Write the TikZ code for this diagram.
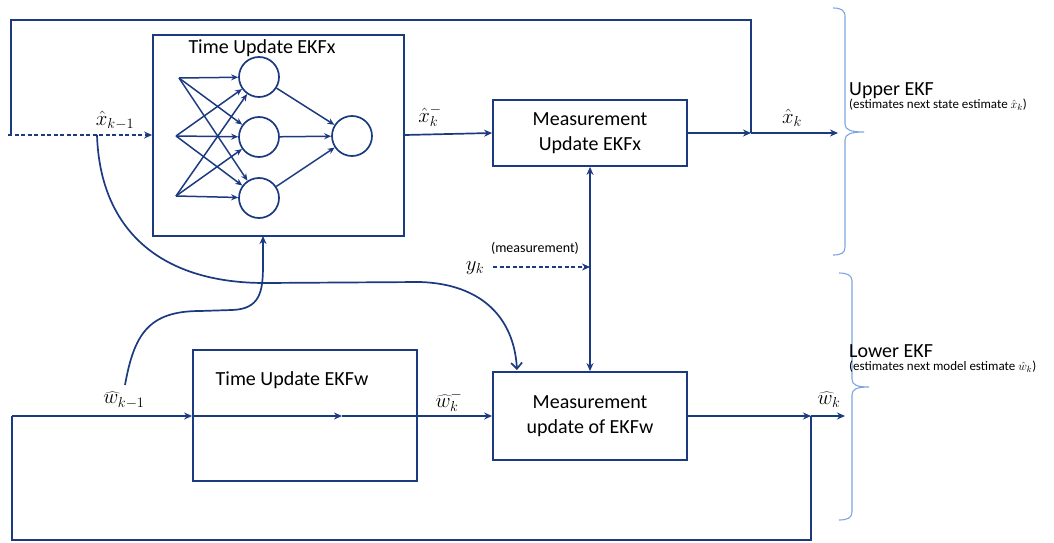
\documentclass[tikz,border=0pt]{standalone}
\usepackage{fontspec}
\setmainfont{Carlito}
\usetikzlibrary{arrows.meta,calc}
\definecolor{navy}{RGB}{28,58,128}
\definecolor{lblue}{RGB}{125,165,225}
\begin{document}
\begin{tikzpicture}[x=1pt,y=-1pt,
  wire/.style={draw=navy,line width=1.7pt},
  tip/.style={-{Stealth[length=8pt,width=7pt]}},
  box/.style={draw=navy,line width=1.8pt,rectangle,inner sep=0pt,align=center,font=\fontsize{20}{25}\selectfont},
  neuron/.style={draw=navy,line width=1.7pt,circle,minimum size=40pt,inner sep=0pt},
  lab/.style={font=\fontsize{20}{24}\selectfont,inner sep=0pt},
  brace/.style={draw=lblue,line width=1.1pt},
  dsh/.style={dash pattern=on 4pt off 2.5pt}]
\useasboundingbox (0,0) rectangle (1054,543);
% boxes
\node[box,minimum width=251pt,minimum height=201pt] (tux) at (278.5,135.5) {};
\node[lab] (tuxt) at (262,48) {Time Update EKFx};
\node[box,minimum width=194pt,minimum height=66pt] (mux) at (590,133) {Measurement\\Update EKFx};
\node[box,minimum width=224pt,minimum height=131pt] (tuw) at (305,415.5) {};
\node[lab] (tuwt) at (292,380) {Time Update EKFw};
\node[box,minimum width=194pt,minimum height=88pt] (muw) at (590,416) {Measurement\\update of EKFw};
% neurons
\node[neuron] (h1) at (259,77) {};
\node[neuron] (h2) at (259,137) {};
\node[neuron] (h3) at (259,198) {};
\node[neuron] (o) at (352,136) {};
\coordinate (i1) at (179,78);
\coordinate (i2) at (176,136);
\coordinate (i3) at (176,196);
\foreach \i in {i1,i2,i3}{\foreach \h in {h1,h2,h3}{
  \draw[wire,line width=1.5pt,-{Stealth[length=7pt,width=6pt]}] (\i) -- (\h);}}
\foreach \h in {h1,h2,h3}{\draw[wire,line width=1.5pt,-{Stealth[length=7pt,width=6pt]}] (\h) -- (o);}
% coordinates
\coordinate (xin) at (8,135);
\coordinate (xfb) at (11,135);
\coordinate (tl) at (11,20);
\coordinate (tr) at (751,20);
\coordinate (jx) at (751,133);
\coordinate (xout) at (838,133);
\coordinate (xs) at (97,135);
\coordinate (ym) at (590,267);
\coordinate (ys) at (493,267);
\coordinate (wl) at (12,416);
\coordinate (wmid) at (342,416);
\coordinate (jw) at (811,416);
\coordinate (wout) at (845,416);
\coordinate (bl) at (12,540);
\coordinate (br) at (811,540);
\coordinate (ws) at (125,385);
\coordinate (tub) at (263,236);
\coordinate (mwt) at (517,370);
% upper flow
\draw[wire,dsh,tip] (xin) -- (tux.west |- xin);
\draw[wire] (jx) -- (tr) -- (tl) -- (xfb);
\draw[wire,tip] (tux.east |- xin) -- (mux.west);
\draw[wire,tip] (mux.east) -- (jx);
\draw[wire,tip] (jx) -- (xout);
\draw[wire,{Stealth[length=8pt,width=7pt]}-{Stealth[length=8pt,width=7pt]}] (mux.south) -- (muw.north);
\draw[wire,dsh,tip] (ys) -- (ym);
% lower flow
\draw[wire,tip] (wl) -- (tuw.west |- wl);
\draw[wire,tip] (tuw.west |- wl) -- (wmid);
\draw[wire,tip] (wmid) -- (muw.west);
\draw[wire,tip] (muw.east) -- (jw);
\draw[wire,tip] (jw) -- (wout);
\draw[wire] (jw) -- (br) -- (bl) -- (wl);
% curves
\draw[wire,-{Straight Barb[length=6pt,width=11pt]}] (xs) .. controls (100,228) and (158,283) .. (265,283)
  -- (420,282) .. controls (482,284) and (514,318) .. (mwt);
\draw[wire,tip] (ws) .. controls (134,335) and (148,311) .. (200,311)
  -- (232,310) .. controls (260,309) and (263,292) .. (263,265) -- (tub);
% labels
\node[lab] (lx1) at (115,120) {$\hat{x}_{k-1}$};
\node[lab] (lxm) at (430,116) {$\hat{x}_k^-$};
\node[lab] (lxk) at (792,118) {$\hat{x}_k$};
\node[lab] (lw1) at (124,400) {$\widehat{w}_{k-1}$};
\node[lab] (lwm) at (449,401) {$\widehat{w}_k^-$};
\node[lab] (lwk) at (829,400) {$\widehat{w}_k$};
\node[lab] (lyk) at (475,268) {$y_k$};
\node[inner sep=0pt,font=\fontsize{14}{16}\selectfont] (lmeas) at (535,248) {(measurement)};
% braces
\draw[brace] (833,8) .. controls (841,8) and (845,10) .. (845,17) -- (845,124)
  .. controls (845,130) and (851,132) .. (864,132) .. controls (851,132) and (845,134) .. (845,140)
  -- (845,247) .. controls (845,253) and (841,255) .. (833,255);
\draw[brace] (839,273) .. controls (847,273) and (852,275) .. (852,281) -- (852,379)
  .. controls (852,385) and (857,387) .. (869,387) .. controls (857,387) and (852,389) .. (852,395)
  -- (852,512) .. controls (852,518) and (847,520) .. (839,520);
\node[anchor=base west,inner sep=0pt,font=\fontsize{20}{24}\selectfont] (upk) at (849,95) {Upper EKF};
\node[anchor=base west,inner sep=0pt,font=\fontsize{13}{15}\selectfont] (ups) at (849,108) {(estimates next state estimate $\hat{x}_k$)};
\node[anchor=base west,inner sep=0pt,font=\fontsize{20}{24}\selectfont] (lok) at (849,357) {Lower EKF};
\node[anchor=base west,inner sep=0pt,font=\fontsize{13}{15}\selectfont] (los) at (849,370) {(estimates next model estimate $\hat{w}_k$)};
\end{tikzpicture}
\end{document}
